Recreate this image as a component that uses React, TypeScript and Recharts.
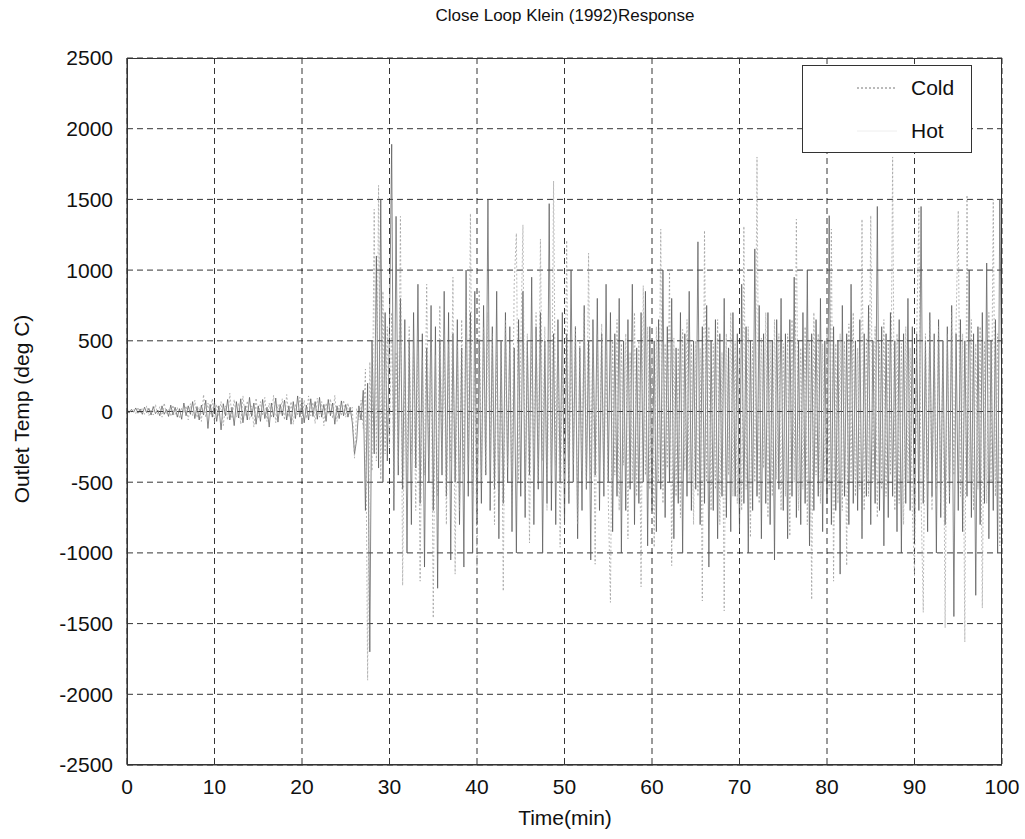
import { LineChart, Line, XAxis, YAxis, CartesianGrid } from 'recharts'

// sample spacing of the logged signal, minutes
const STEP = 0.25

const xTicks = [0, 10, 20, 30, 40, 50, 60, 70, 80, 90, 100]
const yTicks = [-2500, -2000, -1500, -1000, -500, 0, 500, 1000, 1500, 2000, 2500]

// Cold outlet temperature (deg C), one row = 5 minutes
const cold = [
  0, 12, -8, 20, -15, 30, -10, 25, -20, 40, -30, 15, -25, 50, -20, 35, -40, 60, -15, 20,
  -35, 45, -20, 30, -50, 25, -10, 40, -60, 55, -30, 80, -45, 30, -70, 120, -40, 60, -20, 90,
  -80, 50, -30, 70, -100, 40, -60, 130, -50, 85, -40, 60, -90, 110, -30, 75, -60, 40, -110, 95,
  -50, 70, -30, 100, -70, 60, -45, 115, -80, 50, -20, 90, -60, 120, -40, 70, -90, 55, -30, 100,
  -60, 80, -50, 110, -30, 65, -85, 95, -40, 70, -100, 60, -20, 90, -50, 115, -70, 45, -30, 80,
  -40, 60, -20, 30, -330, 20, -60, 80, -120, 300, -1900, 350, -420, 1430, -350, 1600, -480, 850, -300, 600,
  -250, 700, -600, 420, -380, 1380, -1230, 350, -500, 600, -300, 450, -700, 520, -1200, 380, -450, 900, -350, 600,
  -1460, 400, -600, 750, -400, 550, -800, 480, -350, 950, -1150, 500, -700, 650, -450, 800, -380, 1400, -600, 500,
  -1110, 860, -500, 600, -450, 700, -350, 550, -800, 420, -600, 500, -1270, 650, -400, 480, -700, 900, 1260, -500,
  450, 1320, -600, 550, -930, 480, -400, 700, -500, 1220, -350, 600, -700, 500, -450, 1630, -380, 550, -960, 400,
  -500, 1210, -650, 450, -380, 600, -800, 500, -420, 700, -550, 1120, -480, 600, -1080, 550, -400, 620, -500, 450,
  -600, -1350, 500, -450, 650, -700, 480, -380, 550, -900, 420, -500, 700, -600, 500, -1240, 890, -450, 600, -550,
  450, -960, 600, -500, 1290, -650, 480, -400, 1000, -1090, 520, -600, 450, -750, 580, -420, 650, -500, 480, -800,
  500, -600, 450, -1340, 1280, -500, 600, -700, 480, -550, 650, -800, 420, -1410, 550, -450, 700, -600, 500, -650,
  450, -700, 1310, -550, 600, -890, 480, -500, 1800, -650, 520, -400, 700, -750, 500, -600, 650, -480, 550, -700,
  480, -600, 550, -880, 650, -500, 1360, -700, 450, -550, 600, -800, 500, -1330, 700, -450, 550, -650, 480, -500,
  600, -550, 1290, -1200, 480, -650, 550, -700, 500, -1090, 620, -480, 700, -600, 450, -550, 1360, -700, 520, -600,
  1385, -500, 600, -750, 480, -550, 650, -600, 500, -450, 1800, -700, 550, -650, 480, -800, 600, -500, 450, -700,
  -1160, 500, 1440, -600, -1420, 550, -500, 650, -700, 480, -550, 600, -650, 500, -1530, 550, -600, 700, -450, 600,
  1420, -600, 550, -1630, 1530, -500, 650, -700, 480, -550, 600, -1390, 500, -650, 700, -500, 1500, -600, 550, -950,
  200,
]

// Hot outlet temperature (deg C), one row = 5 minutes
const hot = [
  0, -10, 15, -5, 25, -12, 18, -20, 30, -8, 22, -25, 35, -15, 10, -30, 40, -20, 15, -35,
  45, -25, 30, -40, 20, -55, 60, -30, 40, -20, 70, -50, 35, -60, 45, -25, 80, -120, 50, -40,
  65, -70, 40, -130, 55, -30, 85, -60, 30, -100, 70, -45, 90, -80, 40, -60, 100, -35, 60, -90,
  40, -70, 85, -50, 30, -110, 60, -40, 95, -75, 50, -30, 80, -60, 40, -90, 70, -50, 110, -40,
  60, -80, 45, -60, 90, -35, 70, -55, 100, -40, 50, -70, 85, -30, 60, -90, 40, -50, 75, -30,
  50, -40, 30, -80, -300, -200, 40, -60, 150, -700, 200, -1700, 500, -300, 1100, -400, 1500, -500, 700, -350,
  600, 1890, -700, 1380, -450, 800, -550, 650, -1000, 500, -800, 700, -400, 900, -650, 550, -1100, 450, -500, 750,
  -700, 600, -1250, 500, -450, 850, -600, 700, -1050, 550, -500, 650, -800, 450, -1100, 1000, -600, 700, -1000, 850,
  -800, 500, -650, 750, -450, 1500, -700, 600, -550, 850, -900, 500, -650, 700, -500, 600, -850, 450, -1000, 650,
  -600, 850, -750, 500, -450, 950, -800, 600, -550, 700, -1000, 500, -650, 1470, -700, 550, -800, 650, -500, 700,
  -800, 550, -650, 1000, -500, 600, -900, 450, -700, 750, -550, 500, -1050, 650, -450, 800, -700, 550, -600, 900,
  -500, 700, -850, 550, -600, 800, -1000, 500, -700, 650, -550, 900, -800, 450, -650, 700, -500, 850, -950, 600,
  -700, 500, -850, 650, -550, 1000, -750, 600, -500, 800, -900, 450, -650, 700, -1000, 550, -600, 850, -700, 500,
  -550, 1200, -800, 600, -650, 750, -1100, 500, -700, 650, -900, 550, -600, 800, -750, 450, -850, 700, -600, 550,
  -850, 900, -650, 600, -1000, 500, -700, 1150, -600, 750, -900, 550, -650, 700, -800, 500, -1050, 650, -550, 800,
  -700, 550, -900, 650, -600, 950, -750, 500, -800, 700, -650, 1000, -950, 550, -700, 650, -600, 800, -850, 500,
  -650, 1385, -800, 600, -700, 500, -1150, 750, -600, 550, -800, 900, -650, 500, -700, 650, -900, 550, -600, 750,
  -800, 500, -650, 1450, -700, 600, -950, 550, -750, 700, -600, 500, -850, 650, -1000, 550, -650, 800, -700, 600,
  -900, 550, -700, 1450, -650, 500, -850, 700, -600, 550, -1000, 650, -750, 500, -800, 600, -650, 750, -1450, 550,
  -700, 650, -850, 500, -600, 1000, -750, 550, -1300, 600, -800, 700, -650, 1050, -900, 500, -700, 650, -1000, 1500,
  0,
]

const data = cold.map((c, i) => ({ t: i * STEP, cold: c, hot: hot[i] }))

const font = '"Liberation Sans", Arial, sans-serif'

function LegendBox() {
  return (
    <div style={{ position: 'absolute', top: 65, left: 802, width: 170, height: 88, boxSizing: 'border-box', border: '1px solid #333', background: '#fff', fontSize: 21, color: '#111' }}>
      <div style={{ display: 'flex', alignItems: 'center', height: 43, paddingLeft: 54 }}>
        <svg width={42} height={4}><line x1={0} y1={2} x2={40} y2={2} stroke="#777" strokeDasharray="2 2" /></svg>
        <span style={{ marginLeft: 12 }}>Cold</span>
      </div>
      <div style={{ display: 'flex', alignItems: 'center', height: 43, paddingLeft: 54 }}>
        <svg width={42} height={4}><line x1={0} y1={2} x2={40} y2={2} stroke="#eee" /></svg>
        <span style={{ marginLeft: 12 }}>Hot</span>
      </div>
    </div>
  )
}

export default function App() {
  return (
    <div style={{ position: 'relative', width: 1025, height: 839, background: '#fff', fontFamily: font }}>
      <style>{'body{margin:0}'}</style>
      <div style={{ position: 'absolute', top: 6, left: 127, width: 876, textAlign: 'center', fontSize: 17, color: '#111' }}>
        Close Loop Klein (1992)Response
      </div>
      <div style={{ position: 'absolute', top: 409, left: 22, transform: 'translate(-50%, -50%) rotate(-90deg)', whiteSpace: 'nowrap', fontSize: 21, color: '#111' }}>
        Outlet Temp (deg C)
      </div>
      <div style={{ position: 'absolute', top: 806, left: 127, width: 876, textAlign: 'center', fontSize: 21, color: '#111' }}>
        Time(min)
      </div>
      <LineChart width={1025} height={839} data={data} margin={{ top: 58, right: 23, bottom: 44, left: 67 }}>
        <CartesianGrid stroke="#000" strokeDasharray="6 4" strokeWidth={0.8} />
        <XAxis
          dataKey="t"
          type="number"
          domain={[0, 100]}
          ticks={xTicks}
          tickLine={false}
          axisLine={{ stroke: '#333' }}
          tick={{ fill: '#111', fontSize: 21, fontFamily: font }}
          tickMargin={8}
          height={30}
        />
        <YAxis
          type="number"
          domain={[-2500, 2500]}
          ticks={yTicks}
          tickLine={false}
          axisLine={{ stroke: '#333' }}
          tick={{ fill: '#111', fontSize: 21, fontFamily: font }}
          tickMargin={8}
          width={60}
          allowDataOverflow
        />
        <Line type="linear" dataKey="hot" name="Hot" stroke="#555" strokeWidth={0.7} dot={false} isAnimationActive={false} />
        <Line type="linear" dataKey="cold" name="Cold" stroke="#999" strokeWidth={0.7} strokeDasharray="2 2" dot={false} isAnimationActive={false} />
      </LineChart>
      <div style={{ position: 'absolute', top: 58, left: 127, width: 875, height: 707, border: '1px solid #333', boxSizing: 'border-box', pointerEvents: 'none' }} />
      <LegendBox />
    </div>
  )
}
